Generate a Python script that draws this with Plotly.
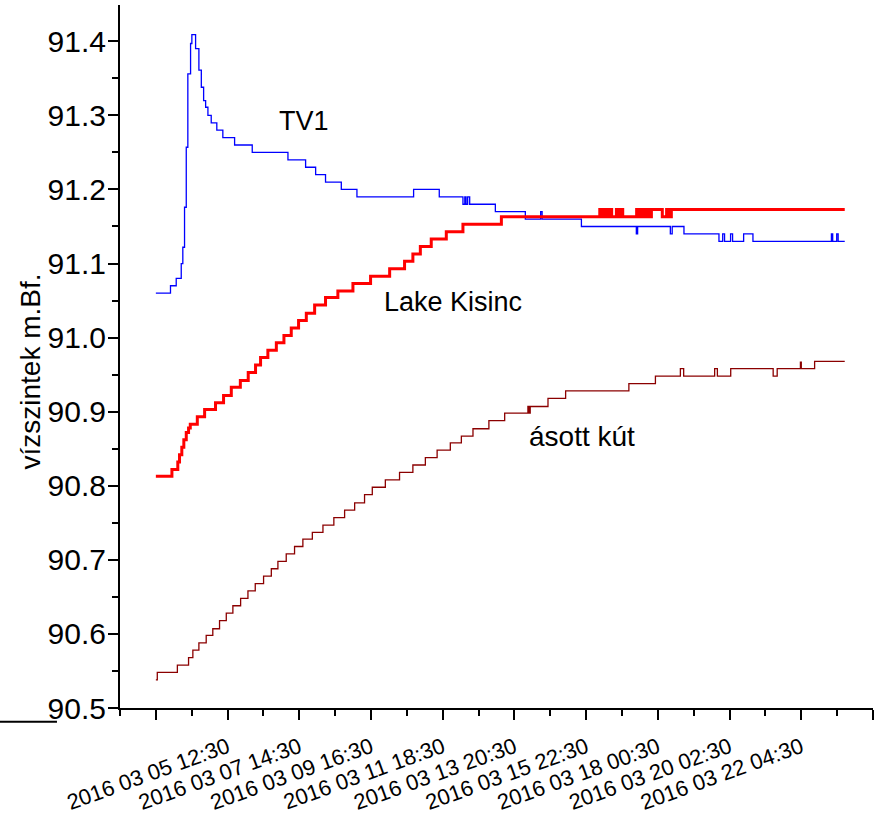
import pandas as pd
import plotly.graph_objects as go

# ---------------- data ----------------
start = pd.Timestamp("2016-03-03 10:30")

# TV1 (hours after start, water level m.Bf.)
tv1_hours = [0, 10.2, 14.2, 16.6, 17.7, 18.8, 20.0, 21.2, 22.3, 24.2, 25.1, 26.5, 27.7, 30.0, 31.7,
             33.3, 34.7, 36.3, 38.6, 42.5, 46.7, 54.9, 67.2, 92.1, 104.4, 111.4, 118.3, 129.3, 140.2,
             179.7, 197.6, 214.1, 215.4, 216.3, 217.4, 218.8, 236.7, 257.6, 268.3, 269.3, 296.7, 335.0,
             335.9, 358.7, 360.0, 368.2, 392.6, 395.2, 396.5, 400.7, 402.1, 409.8, 416.3, 471.0, 471.9,
             474.7, 475.7, 480.3]
tv1_level = [91.06, 91.07, 91.08, 91.08, 91.10, 91.122, 91.176, 91.257, 91.356, 91.397, 91.409, 91.409,
             91.39, 91.361, 91.338, 91.32, 91.311, 91.30, 91.29, 91.28, 91.27, 91.26, 91.25, 91.24, 91.23,
             91.22, 91.21, 91.20, 91.19, 91.20, 91.19, 91.18, 91.19, 91.18, 91.19, 91.18, 91.17, 91.16,
             91.17, 91.16, 91.15, 91.14, 91.15, 91.14, 91.15, 91.14, 91.13, 91.14, 91.13, 91.14, 91.13,
             91.14, 91.13, 91.14, 91.13, 91.14, 91.13, 91.13]

# Lake Kisinc
lake_hours = [0, 11.2, 15.3, 16.5, 18.1, 19.5, 21.2, 22.8, 24.0, 28.9, 34.0, 41.6, 47.2, 52.6, 58.9,
              64.4, 69.5, 73.0, 78.1, 84.0, 89.3, 94.4, 99.5, 104.9, 110.7, 118.3, 126.9, 137.4, 149.7,
              163.0, 173.4, 179.2, 184.4, 192.0, 202.5, 214.1, 240.9, 309.5, 311.6, 313.0, 314.4, 315.8,
              317.8, 321.1, 322.7, 324.1, 325.5, 335.2, 337.3, 338.7, 340.8, 342.2, 343.9, 345.5, 353.1,
              356.1, 357.9, 359.4, 480.3]
lake_level = [90.813, 90.822, 90.832, 90.842, 90.852, 90.862, 90.872, 90.878, 90.883, 90.893, 90.903,
              90.912, 90.922, 90.933, 90.942, 90.953, 90.963, 90.973, 90.983, 90.993, 91.003, 91.013,
              91.023, 91.033, 91.044, 91.054, 91.063, 91.073, 91.083, 91.093, 91.103, 91.113, 91.123,
              91.133, 91.143, 91.153, 91.163, 91.173, 91.163, 91.173, 91.163, 91.173, 91.163, 91.173,
              91.163, 91.173, 91.163, 91.173, 91.163, 91.173, 91.163, 91.173, 91.163, 91.173, 91.163,
              91.173, 91.163, 91.173, 91.173]

# ásott kút
asott_hours = [0, 1.0, 15.0, 22.8, 25.8, 30.0, 35.1, 39.7, 44.4, 49.1, 53.7, 59.1, 64.2, 69.3, 75.1,
               80.5, 85.1, 90.9, 96.7, 102.5, 109.1, 116.5, 124.1, 131.6, 138.6, 145.5, 150.9, 160.0,
               169.9, 179.2, 187.9, 196.1, 205.3, 213.0, 221.1, 232.2, 243.2, 259.4, 260.3, 261.0,
               273.4, 285.7, 329.8, 348.3, 365.7, 368.0, 389.6, 391.5, 400.8, 430.4, 433.2, 449.4,
               450.0, 459.3, 480.3]
asott_level = [90.538, 90.548, 90.558, 90.568, 90.578, 90.588, 90.598, 90.607, 90.618, 90.628, 90.638,
               90.648, 90.658, 90.668, 90.678, 90.688, 90.698, 90.708, 90.718, 90.728, 90.737, 90.747,
               90.757, 90.767, 90.777, 90.788, 90.798, 90.808, 90.818, 90.828, 90.838, 90.848, 90.858,
               90.867, 90.877, 90.888, 90.898, 90.907, 90.898, 90.907, 90.918, 90.928, 90.938, 90.948,
               90.958, 90.948, 90.958, 90.948, 90.958, 90.948, 90.958, 90.967, 90.958, 90.968, 90.968]

tick_hours = [0, 50, 100, 150, 200, 250, 300, 350, 400, 450, 500]
tick_labels = ["", "2016 03 05 12:30", "2016 03 07 14:30", "2016 03 09 16:30", "2016 03 11 18:30",
               "2016 03 13 20:30", "2016 03 15 22:30", "2016 03 18 00:30", "2016 03 20 02:30",
               "2016 03 22 04:30", ""]

y_title = "vízszintek m.Bf."


def to_time(hours):
    return [start + pd.Timedelta(hours=h) for h in hours]


FONT = "Liberation Sans, Arial, sans-serif"

fig = go.Figure()
fig.add_trace(go.Scatter(x=to_time(tv1_hours), y=tv1_level, mode="lines", name="TV1",
                         line=dict(color="#0000FF", width=1.3, shape="hv")))
fig.add_trace(go.Scatter(x=to_time(lake_hours), y=lake_level, mode="lines", name="Lake Kisinc",
                         line=dict(color="#FF0000", width=3, shape="hv")))
fig.add_trace(go.Scatter(x=to_time(asott_hours), y=asott_level, mode="lines", name="ásott kút",
                         line=dict(color="#8B0000", width=1.3, shape="hv")))

fig.update_layout(
    width=874, height=819,
    margin=dict(l=120, r=1, t=5, b=111),
    paper_bgcolor="white", plot_bgcolor="white",
    showlegend=False,
    font=dict(family=FONT, color="black"),
    xaxis=dict(
        type="date", automargin=False,
        range=[start - pd.Timedelta(hours=25), start + pd.Timedelta(hours=500)],
        tickmode="array",
        tickvals=to_time(tick_hours),
        ticktext=tick_labels,
        tickangle=-20,
        tickfont=dict(size=22, family=FONT, color="black"),
        ticklabelstandoff=6,
        ticks="outside", ticklen=10, tickwidth=2, tickcolor="black",
        showline=True, linecolor="black", linewidth=2,
        showgrid=False, zeroline=False,
        minor=dict(tickmode="linear", tick0=start, dtick=25 * 3600 * 1000,
                   ticks="outside", ticklen=6, tickwidth=2, tickcolor="black", showgrid=False),
    ),
    yaxis=dict(
        automargin=False,
        range=[90.5, 91.449],
        tickmode="linear", tick0=90.5, dtick=0.1, tickformat=".1f",
        tickfont=dict(size=30, family=FONT, color="black"),
        ticklabelstandoff=-4,
        ticks="outside", ticklen=10, tickwidth=2, tickcolor="black",
        showline=True, linecolor="black", linewidth=2,
        showgrid=False, zeroline=False,
        minor=dict(tickmode="linear", tick0=90.5, dtick=0.05,
                   ticks="outside", ticklen=6, tickwidth=2, tickcolor="black", showgrid=False),
    ),
    annotations=[
        dict(x=-0.1195, y=0.4787, xref="paper", yref="paper", text=y_title, textangle=-90,
             xanchor="center", yanchor="middle", showarrow=False,
             font=dict(size=28, family=FONT, color="black")),
        dict(x=start + pd.Timedelta(hours=103), y=91.293, xref="x", yref="y", text="TV1",
             showarrow=False, font=dict(size=27, family=FONT, color="black")),
        dict(x=start + pd.Timedelta(hours=207), y=91.048, xref="x", yref="y", text="Lake Kisinc",
             showarrow=False, font=dict(size=27, family=FONT, color="black")),
        dict(x=start + pd.Timedelta(hours=297), y=90.867, xref="x", yref="y", text="ásott kút",
             showarrow=False, font=dict(size=28, family=FONT, color="black")),
    ],
    shapes=[
        dict(type="line", xref="paper", yref="paper", x0=-0.1594, x1=-0.0837, y0=-0.0195, y1=-0.0195,
             line=dict(color="black", width=2)),
    ],
)

fig.write_html("out.html", config={"displayModeBar": False},
               post_script="document.body.style.margin='0px';")
